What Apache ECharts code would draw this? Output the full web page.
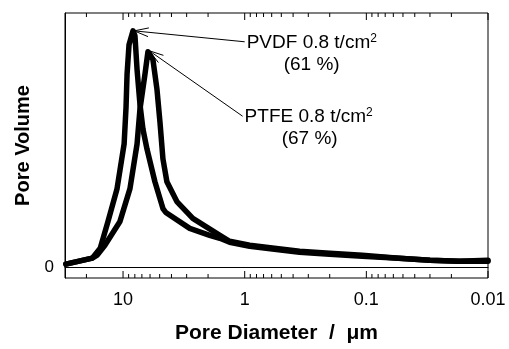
<!DOCTYPE html>
<html><head><meta charset="utf-8">
<script src="https://cdn.jsdelivr.net/npm/echarts@6/dist/echarts.min.js"></script>
<style>html,body{margin:0;padding:0;background:#fff}#c{width:509px;height:349px}</style>
</head><body><div id="c"></div>
<script>
// Pore diameter (µm) and pore volume (arbitrary units)
const pvdfDiam = [29.5, 17.9, 15.4, 13.3, 11.2, 9.8, 9.45, 9.27, 8.93, 8.28, 7.98, 7.67, 7.26, 6.86, 6.36, 5.47, 4.70, 4.45, 2.83, 1.94, 1.60, 1.33, 0.91, 0.57, 0.354, 0.20, 0.108, 0.054, 0.030, 0.0173, 0.01];
const pvdfVol  = [3, 9, 19, 46, 79, 124, 161, 194, 224, 238, 233, 199, 164, 139, 119, 86, 59, 55, 39, 32, 29, 25, 21, 18, 15, 13, 11, 9, 7, 6, 6];
const ptfeDiam = [29.5, 17.9, 16.3, 14.1, 10.6, 8.77, 7.67, 7.26, 6.61, 6.24, 5.68, 5.26, 4.97, 4.70, 4.36, 3.61, 2.67, 1.60, 1.33, 0.91, 0.57, 0.354, 0.20, 0.108, 0.054, 0.030, 0.0173, 0.01];
const ptfeVol  = [3, 9, 12, 22, 46, 79, 124, 159, 194, 217, 209, 179, 146, 109, 86, 66, 49, 32, 26, 22, 19, 16, 14, 12, 9, 7, 6, 7];

const xTickLabels = ['10', '1', '0.1', '0.01'];
const majorTicks = [10, 1, 0.1, 0.01];
const minorTicks = [20, 9, 8, 7, 6, 5, 4, 3, 2, 0.9, 0.8, 0.7, 0.6, 0.5, 0.4, 0.3, 0.2, 0.09, 0.08, 0.07, 0.06, 0.05, 0.04, 0.03, 0.02];

const annoNames = ['PVDF 0.8 t/cm', 'PTFE 0.8 t/cm'];
const annoPct = ['(61 %)', '(67 %)'];
const annoFrom = [[1.0, 227], [1.04, 152]];
const annoTo = [[8.1, 238], [6.1, 218]];

const Y_MIN = -11, Y_MAX = 256;
const FONT = '"Liberation Sans", Arial, Helvetica, sans-serif';

const chart = echarts.init(document.getElementById('c'), null, {renderer: 'canvas'});

const tickData = majorTicks.map(v => [v, 0, 7]).concat(minorTicks.map(v => [v, 0, 4]));
const annoData = annoFrom.map((f, i) => [f[0], f[1], annoTo[i][0], annoTo[i][1], i]);

function fmtX(v) {
  const l = Math.log10(v);
  if (Math.abs(l - Math.round(l)) > 1e-6) return '';
  const idx = majorTicks.findIndex(m => Math.abs(Math.log10(m) - l) < 1e-6);
  return idx >= 0 ? xTickLabels[idx] : '';
}

chart.setOption({
  animation: false,
  backgroundColor: '#fff',
  grid: {left: 65, right: 21, top: 13, bottom: 69, show: true, borderColor: '#000', borderWidth: 1, backgroundColor: 'transparent'},
  xAxis: {
    type: 'log', logBase: 10, min: 0.01, max: 30, inverse: true,
    axisLine: {show: true, lineStyle: {color: '#000', width: 1}},
    axisTick: {show: false}, splitLine: {show: false}, minorTick: {show: false},
    axisLabel: {formatter: fmtX, color: '#000', fontSize: 18, margin: 13, fontFamily: FONT, showMinLabel: true, showMaxLabel: true},
    name: 'Pore Diameter  /  \u03bcm', nameLocation: 'middle', nameGap: 45,
    nameTextStyle: {fontSize: 21, fontWeight: 'bold', color: '#000', fontFamily: FONT}
  },
  yAxis: {
    type: 'value', min: Y_MIN, max: Y_MAX,
    axisLine: {show: true, lineStyle: {color: '#000', width: 1}},
    axisTick: {show: false}, splitLine: {show: false},
    axisLabel: {formatter: v => (v === 0 ? '0' : ''), color: '#000', fontSize: 17, margin: 11, fontFamily: FONT},
    name: 'Pore Volume', nameLocation: 'middle', nameGap: 32,
    nameTextStyle: {fontSize: 20, fontWeight: 'bold', color: '#000', fontFamily: FONT}
  },
  series: [
    {
      type: 'line', name: 'PVDF', data: pvdfDiam.map((d, i) => [d, pvdfVol[i]]),
      symbol: 'none', showSymbol: false, smooth: false, z: 3,
      lineStyle: {color: '#000', width: 5.5, join: 'round', cap: 'round'},
      markLine: {silent: true, symbol: 'none', label: {show: false},
        lineStyle: {color: '#000', width: 1, type: 'solid'}, data: [{yAxis: 0}]}
    },
    {
      type: 'line', name: 'PTFE', data: ptfeDiam.map((d, i) => [d, ptfeVol[i]]),
      symbol: 'none', showSymbol: false, smooth: false, z: 3,
      lineStyle: {color: '#000', width: 5.5, join: 'round', cap: 'round'}
    },
    {
      type: 'custom', silent: true, clip: false, z: 4,
      data: tickData, encode: {x: 0, y: 1},
      renderItem: function (params, api) {
        const v = api.value(0), len = api.value(2);
        const b = api.coord([v, Y_MIN]);
        const t = api.coord([v, Y_MAX]);
        return {type: 'group', children: [
          {type: 'line', shape: {x1: b[0], y1: b[1], x2: b[0], y2: b[1] - len}, style: {stroke: '#000', lineWidth: 1}},
          {type: 'line', shape: {x1: t[0], y1: t[1], x2: t[0], y2: t[1] + len}, style: {stroke: '#000', lineWidth: 1}}
        ]};
      }
    },
    {
      type: 'custom', silent: true, clip: false, z: 5,
      data: annoData, encode: {x: [0, 2], y: [1, 3]},
      renderItem: function (params, api) {
        const i = api.value(4);
        const p0 = api.coord([api.value(0), api.value(1)]);
        const p1 = api.coord([api.value(2), api.value(3)]);
        const ang = Math.atan2(p0[1] - p1[1], p0[0] - p1[0]);
        const L = 15, h = 17 * Math.PI / 180;
        const a1 = [p1[0] + L * Math.cos(ang + h), p1[1] + L * Math.sin(ang + h)];
        const a2 = [p1[0] + L * Math.cos(ang - h), p1[1] + L * Math.sin(ang - h)];
        const ls = {stroke: '#000', lineWidth: 1};
        return {type: 'group', children: [
          {type: 'line', shape: {x1: p0[0], y1: p0[1], x2: p1[0], y2: p1[1]}, style: ls},
          {type: 'line', shape: {x1: p1[0], y1: p1[1], x2: a1[0], y2: a1[1]}, style: ls},
          {type: 'line', shape: {x1: p1[0], y1: p1[1], x2: a2[0], y2: a2[1]}, style: ls},
          {type: 'text', x: p0[0] + 2, y: p0[1] + 1, style: {
            text: '{a|' + annoNames[i] + '}{s|2}', align: 'left', verticalAlign: 'middle', fill: '#000',
            rich: {a: {fontSize: 19, fontFamily: FONT, fill: '#000', lineHeight: 21}, s: {fontSize: 12, fontFamily: FONT, fill: '#000', verticalAlign: 'top', lineHeight: 21}}
          }},
          {type: 'text', x: p0[0] + 67, y: p0[1] + 23, style: {
            text: annoPct[i], align: 'center', verticalAlign: 'middle', fill: '#000', fontSize: 19, fontFamily: FONT
          }}
        ]};
      }
    }
  ]
});
</script>
</body></html>
